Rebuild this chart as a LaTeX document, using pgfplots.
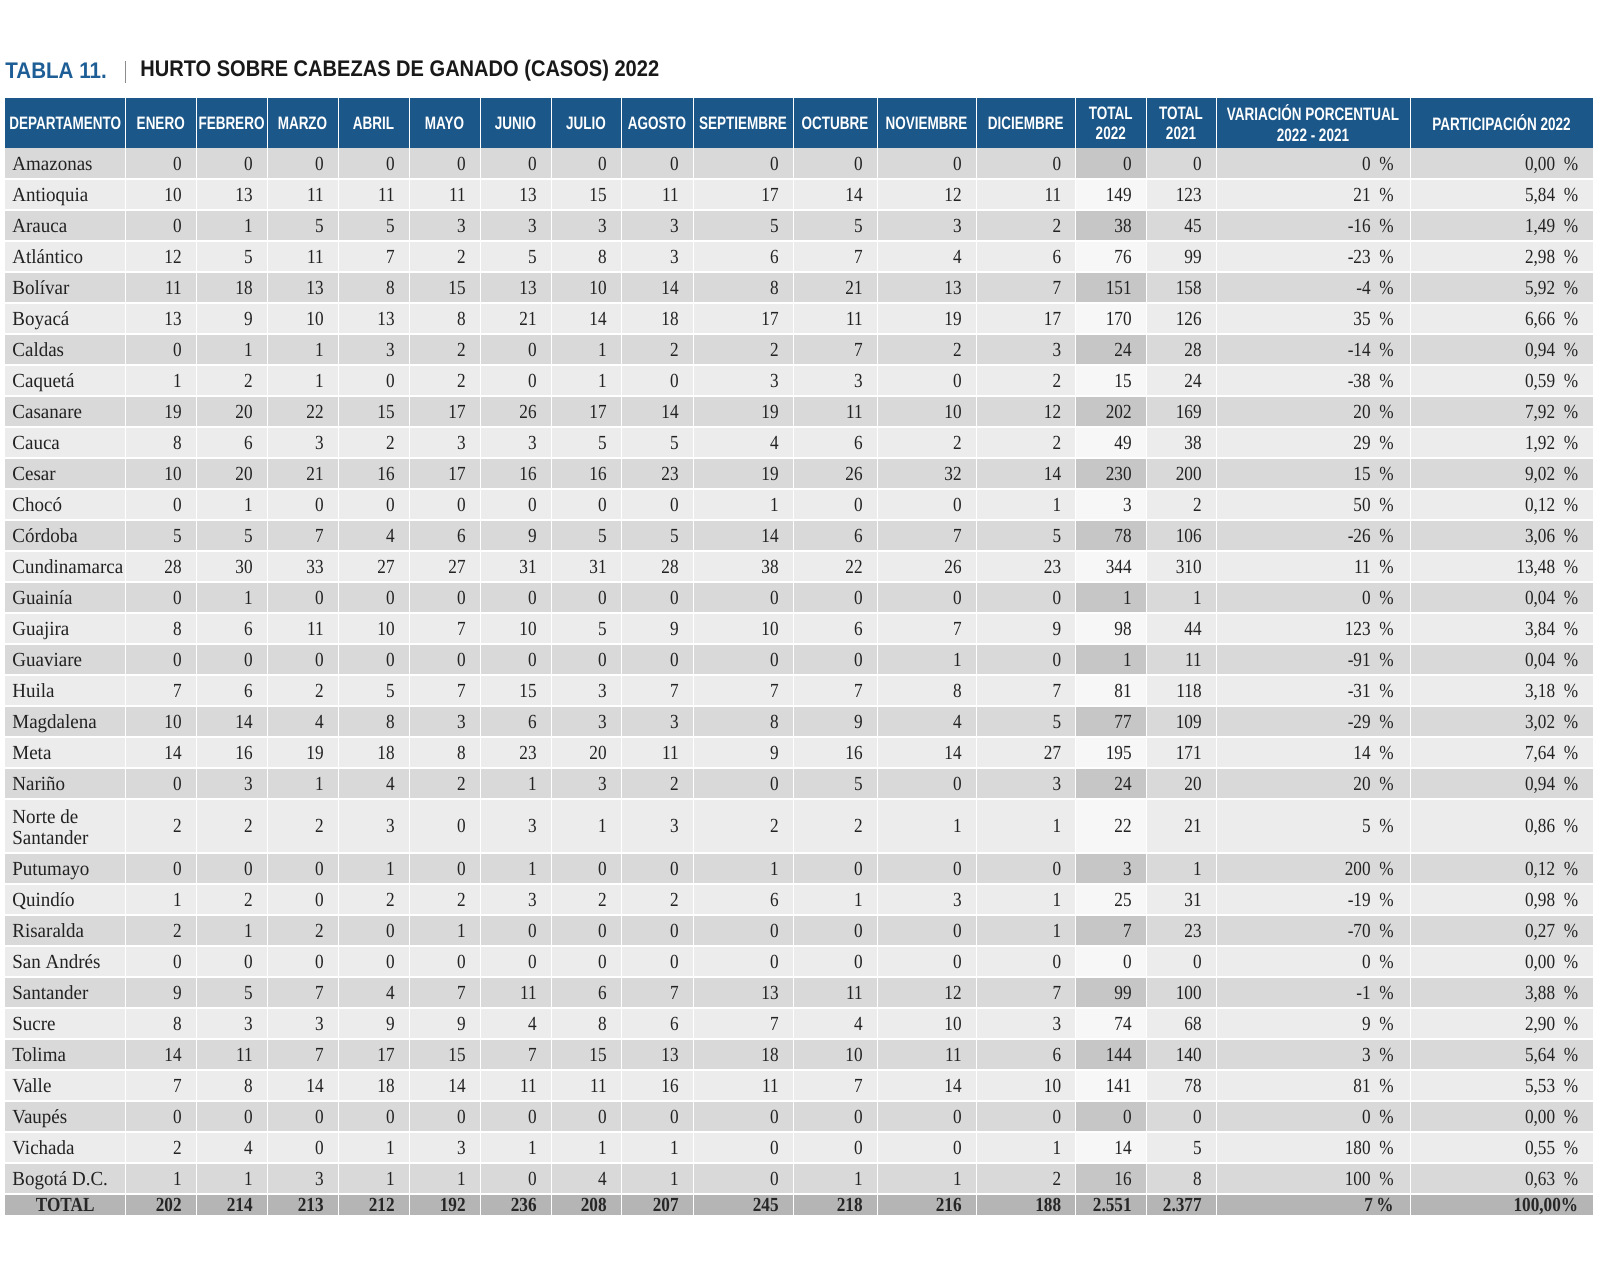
\documentclass[border=0pt]{standalone}
\usepackage{fontspec}
\setmainfont{Liberation Serif}[FakeStretch=0.86]
\newfontfamily\namefont{Liberation Serif}[FakeStretch=0.95]
\newfontfamily\hdrfont{Liberation Sans}[FakeStretch=0.75]
\newfontfamily\titfont{Liberation Sans}[FakeStretch=0.91]
\usepackage{pgfplots}
\usepackage{pgfplotstable}
\pgfplotsset{compat=1.18}
\definecolor{hdrblue}{RGB}{27,87,137}
\definecolor{titblue}{RGB}{30,94,150}
\definecolor{rowdark}{RGB}{217,217,217}
\definecolor{rowlight}{RGB}{236,236,236}
\definecolor{totdark}{RGB}{198,198,198}
\definecolor{totlight}{RGB}{247,247,247}
\definecolor{totrow}{RGB}{181,181,181}
\definecolor{txt}{RGB}{34,34,34}
\protected\def\nds{\raisebox{-5.6pt}{\begin{tabular}[b]{@{}l@{}}Norte de\\[-0.8pt]Santander\end{tabular}}}
\pgfplotstableread{
y name ene feb mar abr may jun jul ago sep oct nov dic ttt ttu var par
163.5 Amazonas 0 0 0 0 0 0 0 0 0 0 0 0 0 0 0 0,00
194.5 Antioquia 10 13 11 11 11 13 15 11 17 14 12 11 149 123 21 5,84
225.5 Arauca 0 1 5 5 3 3 3 3 5 5 3 2 38 45 -16 1,49
256.5 Atlántico 12 5 11 7 2 5 8 3 6 7 4 6 76 99 -23 2,98
287.5 Bolívar 11 18 13 8 15 13 10 14 8 21 13 7 151 158 -4 5,92
318.5 Boyacá 13 9 10 13 8 21 14 18 17 11 19 17 170 126 35 6,66
349.5 Caldas 0 1 1 3 2 0 1 2 2 7 2 3 24 28 -14 0,94
380.5 Caquetá 1 2 1 0 2 0 1 0 3 3 0 2 15 24 -38 0,59
411.5 Casanare 19 20 22 15 17 26 17 14 19 11 10 12 202 169 20 7,92
442.5 Cauca 8 6 3 2 3 3 5 5 4 6 2 2 49 38 29 1,92
473.5 Cesar 10 20 21 16 17 16 16 23 19 26 32 14 230 200 15 9,02
504.5 Chocó 0 1 0 0 0 0 0 0 1 0 0 1 3 2 50 0,12
535.5 Córdoba 5 5 7 4 6 9 5 5 14 6 7 5 78 106 -26 3,06
566.5 Cundinamarca 28 30 33 27 27 31 31 28 38 22 26 23 344 310 11 13,48
597.5 Guainía 0 1 0 0 0 0 0 0 0 0 0 0 1 1 0 0,04
628.5 Guajira 8 6 11 10 7 10 5 9 10 6 7 9 98 44 123 3,84
659.5 Guaviare 0 0 0 0 0 0 0 0 0 0 1 0 1 11 -91 0,04
690.5 Huila 7 6 2 5 7 15 3 7 7 7 8 7 81 118 -31 3,18
721.5 Magdalena 10 14 4 8 3 6 3 3 8 9 4 5 77 109 -29 3,02
752.5 Meta 14 16 19 18 8 23 20 11 9 16 14 27 195 171 14 7,64
783.5 Nariño 0 3 1 4 2 1 3 2 0 5 0 3 24 20 20 0,94
826 {\nds} 2 2 2 3 0 3 1 3 2 2 1 1 22 21 5 0,86
868.5 Putumayo 0 0 0 1 0 1 0 0 1 0 0 0 3 1 200 0,12
899.5 Quindío 1 2 0 2 2 3 2 2 6 1 3 1 25 31 -19 0,98
930.5 Risaralda 2 1 2 0 1 0 0 0 0 0 0 1 7 23 -70 0,27
961.5 {San Andrés} 0 0 0 0 0 0 0 0 0 0 0 0 0 0 0 0,00
992.5 Santander 9 5 7 4 7 11 6 7 13 11 12 7 99 100 -1 3,88
1023.5 Sucre 8 3 3 9 9 4 8 6 7 4 10 3 74 68 9 2,90
1054.5 Tolima 14 11 7 17 15 7 15 13 18 10 11 6 144 140 3 5,64
1085.5 Valle 7 8 14 18 14 11 11 16 11 7 14 10 141 78 81 5,53
1116.5 Vaupés 0 0 0 0 0 0 0 0 0 0 0 0 0 0 0 0,00
1147.5 Vichada 2 4 0 1 3 1 1 1 0 0 0 1 14 5 180 0,55
1178.5 {Bogotá D.C.} 1 1 3 1 1 0 4 1 0 1 1 2 16 8 100 0,63
}\datatab
\pgfplotstableread{
y name ene feb mar abr may jun jul ago sep oct nov dic ttt ttu var par
1204.5 TOTAL 202 214 213 212 192 236 208 207 245 218 216 188 2.551 2.377 {7\,\%} {100,00\%}
}\totaltab
\pgfplotsset{
  lbl/.style={only marks, mark=none, point meta=explicit symbolic, nodes near coords,
    every node near coord/.append style={anchor=base east, inner sep=0pt, yshift=-3.4pt,
      text=txt, font=\fontsize{10}{12}\selectfont}},
  tlbl/.style={lbl, every node near coord/.append style={font=\fontsize{10}{12}\selectfont\bfseries, text=black!85}},
}
\begin{document}
\begin{tikzpicture}
\begin{axis}[scale only axis, width=800pt, height=638pt, xmin=0, xmax=1600, ymin=0, ymax=1276,
  y dir=reverse, hide axis, clip=false]
\fill[white] (0,0) rectangle (1600,1276);
% title
\node[anchor=west, inner sep=0pt, text=titblue, font=\titfont\fontsize{11.3}{13}\selectfont\bfseries] at (5,71) {TABLA 11.};
\draw[black!45, line width=0.5pt] (125,61) -- (125,83);
\node[anchor=west, inner sep=0pt, text=black!90, font=\titfont\fontsize{11.3}{13}\selectfont\bfseries, xscale=0.975] at (140,71) {HURTO SOBRE CABEZAS DE GANADO (CASOS) 2022};
% header
\fill[hdrblue] (5,98) rectangle (1593,148);
% body background
\fill[rowlight] (5,148) rectangle (1593,1194);
\fill[totlight] (1075.5,148) rectangle (1146,1194);
\pgfplotsinvokeforeach{148,210,272,334,396,458,520,582,644,706,768,853,915,977,1039,1101,1163}{
  \fill[rowdark] (5,#1) rectangle (1593,#1+31);
  \fill[totdark] (1075.5,#1) rectangle (1146,#1+31);
}
\fill[totrow] (5,1194) rectangle (1593,1215);
% separators
\pgfplotsinvokeforeach{179,210,241,272,303,334,365,396,427,458,489,520,551,582,613,644,675,706,737,768,799,853,884,915,946,977,1008,1039,1070,1101,1132,1163,1194}{
  \draw[white, line width=0.7pt] (5,#1) -- (1593,#1);
}
\pgfplotsinvokeforeach{125.5,196,267,338,409,480,551,621,693,793,877,976,1075.5,1146,1216,1410}{
  \draw[white, line width=0.5pt] (#1,98) -- (#1,1215);
}
% header labels
\begin{scope}[every node/.style={text=white, inner sep=0pt, align=center, font=\hdrfont\fontsize{9}{10.2}\selectfont\bfseries}]
\node at (65.25,123) {DEPARTAMENTO};
\node at (160.75,123) {ENERO};
\node at (231.5,123) {FEBRERO};
\node at (302.5,123) {MARZO};
\node at (373.5,123) {ABRIL};
\node at (444.5,123) {MAYO};
\node at (515.5,123) {JUNIO};
\node at (586,123) {JULIO};
\node at (657,123) {AGOSTO};
\node at (743,123) {SEPTIEMBRE};
\node at (835,123) {OCTUBRE};
\node at (926.5,123) {NOVIEMBRE};
\node at (1025.75,123) {DICIEMBRE};
\node at (1110.75,123) {TOTAL\\2022};
\node at (1181,123) {TOTAL\\2021};
\node at (1313,123) {VARIACIÓN PORCENTUAL\\2022 - 2021};
\node at (1501.5,123) {PARTICIPACIÓN 2022};
\end{scope}
% department names
\addplot[lbl, every node near coord/.append style={anchor=base west, font=\namefont\fontsize{10}{11.2}\selectfont}] table[x expr=12, y=y, meta=name] {\datatab};
% values
\addplot[lbl] table[x expr=182, y=y, meta=ene] {\datatab};
\addplot[lbl] table[x expr=253, y=y, meta=feb] {\datatab};
\addplot[lbl] table[x expr=324, y=y, meta=mar] {\datatab};
\addplot[lbl] table[x expr=395, y=y, meta=abr] {\datatab};
\addplot[lbl] table[x expr=466, y=y, meta=may] {\datatab};
\addplot[lbl] table[x expr=537, y=y, meta=jun] {\datatab};
\addplot[lbl] table[x expr=607, y=y, meta=jul] {\datatab};
\addplot[lbl] table[x expr=679, y=y, meta=ago] {\datatab};
\addplot[lbl] table[x expr=779, y=y, meta=sep] {\datatab};
\addplot[lbl] table[x expr=863, y=y, meta=oct] {\datatab};
\addplot[lbl] table[x expr=962, y=y, meta=nov] {\datatab};
\addplot[lbl] table[x expr=1061.5, y=y, meta=dic] {\datatab};
\addplot[lbl] table[x expr=1132, y=y, meta=ttt] {\datatab};
\addplot[lbl] table[x expr=1202, y=y, meta=ttu] {\datatab};
\addplot[lbl, nodes near coords={\pgfplotspointmeta\ \ \%}] table[x expr=1394, y=y, meta=var] {\datatab};
\addplot[lbl, nodes near coords={\pgfplotspointmeta\ \ \%}] table[x expr=1578.5, y=y, meta=par] {\datatab};
% totals row
\addplot[tlbl, every node near coord/.append style={anchor=base}] table[x expr=65.25, y=y, meta=name] {\totaltab};
\addplot[tlbl] table[x expr=182, y=y, meta=ene] {\totaltab};
\addplot[tlbl] table[x expr=253, y=y, meta=feb] {\totaltab};
\addplot[tlbl] table[x expr=324, y=y, meta=mar] {\totaltab};
\addplot[tlbl] table[x expr=395, y=y, meta=abr] {\totaltab};
\addplot[tlbl] table[x expr=466, y=y, meta=may] {\totaltab};
\addplot[tlbl] table[x expr=537, y=y, meta=jun] {\totaltab};
\addplot[tlbl] table[x expr=607, y=y, meta=jul] {\totaltab};
\addplot[tlbl] table[x expr=679, y=y, meta=ago] {\totaltab};
\addplot[tlbl] table[x expr=779, y=y, meta=sep] {\totaltab};
\addplot[tlbl] table[x expr=863, y=y, meta=oct] {\totaltab};
\addplot[tlbl] table[x expr=962, y=y, meta=nov] {\totaltab};
\addplot[tlbl] table[x expr=1061.5, y=y, meta=dic] {\totaltab};
\addplot[tlbl] table[x expr=1132, y=y, meta=ttt] {\totaltab};
\addplot[tlbl] table[x expr=1202, y=y, meta=ttu] {\totaltab};
\addplot[tlbl] table[x expr=1394, y=y, meta=var] {\totaltab};
\addplot[tlbl] table[x expr=1578.5, y=y, meta=par] {\totaltab};
\end{axis}
\end{tikzpicture}
\end{document}
